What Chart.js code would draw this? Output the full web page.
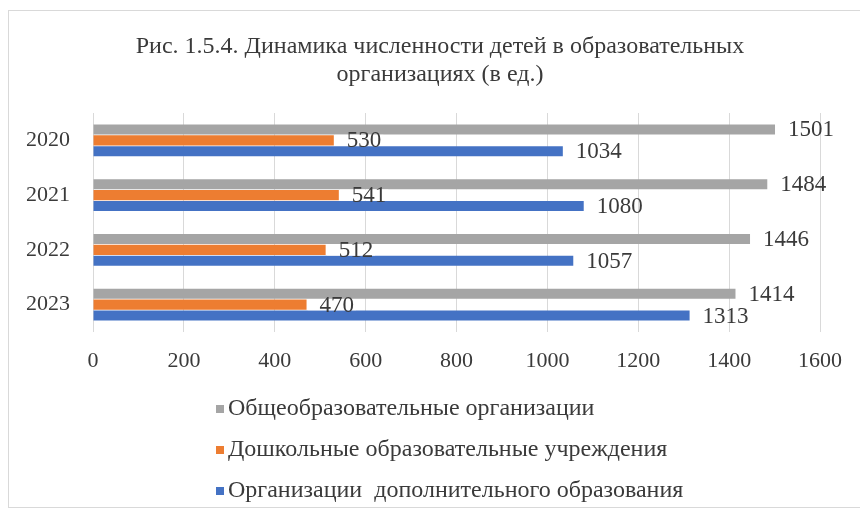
<!DOCTYPE html>
<html>
<head>
<meta charset="utf-8">
<script src="https://cdn.jsdelivr.net/npm/chart.js@4"></script>
<style>
  html, body { margin: 0; padding: 0; background: #ffffff; }
  #wrap { position: relative; width: 860px; height: 515px; overflow: hidden; }
  #frame { position: absolute; left: 8px; top: 10px; width: 900px; height: 498px; border: 1px solid #d9d9d9; box-sizing: border-box; }
  canvas { position: absolute; left: 0; top: 0; }
</style>
</head>
<body>
<div id="wrap">
  <div id="frame"></div>
  <canvas id="c" width="860" height="515"></canvas>
</div>
<script>
const categories = ['2020', '2021', '2022', '2023'];
const seriesNames = [
  'Общеобразовательные организации',
  'Дошкольные образовательные учреждения',
  'Организации  дополнительного образования'
];
const generalSchools = [1501, 1484, 1446, 1414];
const preschools = [530, 541, 512, 470];
const additionalEdu = [1034, 1080, 1057, 1313];
const xTicks = [0, 200, 400, 600, 800, 1000, 1200, 1400, 1600];
const titleLines = ['Рис. 1.5.4. Динамика численности детей в образовательных', 'организациях (в ед.)'];

const SERIF = '"Liberation Serif", "Times New Roman", serif';
const TEXT = '#3a3a3a';

const titlePlugin = {
  id: 'offsetTitle',
  afterDraw(chart) {
    const ctx = chart.ctx;
    ctx.save();
    ctx.font = '24px ' + SERIF;
    ctx.textBaseline = 'middle';
    ctx.textAlign = 'center';
    ctx.fillStyle = TEXT;
    titleLines.forEach((line, i) => ctx.fillText(line, 440, 47 + i * 28));
    ctx.restore();
  }
};

const labelPlugin = {
  id: 'valueLabels',
  afterDatasetsDraw(chart) {
    const ctx = chart.ctx;
    ctx.save();
    ctx.font = '23px ' + SERIF;
    ctx.textBaseline = 'middle';
    ctx.textAlign = 'left';
    chart.data.datasets.forEach((ds, di) => {
      const meta = chart.getDatasetMeta(di);
      meta.data.forEach((bar, i) => {
        const txt = String(ds.data[i]);
        const w = ctx.measureText(txt).width;
        const x = bar.x + 13;
        if (ds.labelBox) {
          const h = bar.height;
          ctx.fillStyle = '#ffffff';
          ctx.fillRect(bar.x + 1, bar.y - h / 2 - 0.5, w + 14, h + 1);
        }
        ctx.fillStyle = TEXT;
        ctx.fillText(txt, x, bar.y + 1);
      });
    });
    ctx.restore();
  }
};

const legendPlugin = {
  id: 'listLegend',
  afterDraw(chart) {
    const ctx = chart.ctx;
    ctx.save();
    ctx.font = '24px ' + SERIF;
    ctx.textBaseline = 'middle';
    ctx.textAlign = 'left';
    const rows = [409, 450, 491];
    chart.data.datasets.forEach((ds, di) => {
      const y = rows[di];
      ctx.fillStyle = ds.backgroundColor;
      ctx.fillRect(216, y - 4, 8, 8);
      ctx.fillStyle = TEXT;
      ctx.fillText(ds.label, 228, y);
    });
    ctx.restore();
  }
};

new Chart(document.getElementById('c'), {
  type: 'bar',
  data: {
    labels: categories,
    datasets: [
      { label: seriesNames[0], data: generalSchools, backgroundColor: '#a5a5a5' },
      { label: seriesNames[1], data: preschools, backgroundColor: '#ed7d31', labelBox: true },
      { label: seriesNames[2], data: additionalEdu, backgroundColor: '#4472c4' }
    ]
  },
  options: {
    indexAxis: 'y',
    responsive: false,
    animation: false,
    devicePixelRatio: 1,
    categoryPercentage: 0.6,
    barPercentage: 0.92,
    layout: { padding: { left: 20, right: 40, top: 113, bottom: 143 } },
    plugins: {
      legend: { display: false },
      tooltip: { enabled: false },
      title: { display: false }
    },
    scales: {
      x: {
        min: 0,
        max: 1600,
        afterBuildTicks(scale) { scale.ticks = xTicks.map(v => ({ value: v })); },
        afterFit(scale) { scale.height = 40; },
        grid: { color: '#d9d9d9', drawTicks: false },
        border: { display: false },
        ticks: { color: TEXT, font: { family: SERIF, size: 22 }, padding: 16, maxRotation: 0, callback: function (v) { return String(v); } }
      },
      y: {
        type: 'category',
        grid: { display: false, drawTicks: false },
        border: { display: false },
        afterFit(scale) { scale.width = 73; },
        ticks: { color: TEXT, font: { family: SERIF, size: 22 }, padding: 23 }
      }
    }
  },
  plugins: [titlePlugin, labelPlugin, legendPlugin]
});
</script>
</body>
</html>
